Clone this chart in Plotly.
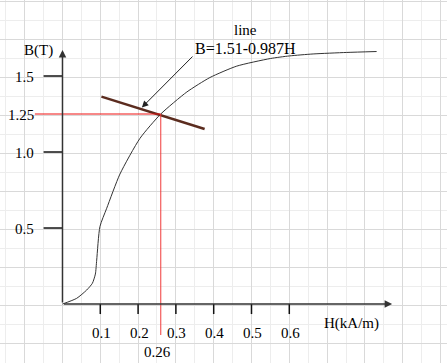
import plotly.graph_objects as go

# ---- data ----
H_curve = [0.0, 0.0376, 0.064, 0.079, 0.087, 0.0905, 0.099, 0.117, 0.152, 0.205,
           0.26, 0.329, 0.39, 0.461, 0.55, 0.60, 0.663, 0.752, 0.831]
B_curve = [0.0, 0.0375, 0.092, 0.136, 0.197, 0.289, 0.509, 0.63, 0.855, 1.09,
           1.25, 1.395, 1.49, 1.565, 1.615, 1.632, 1.645, 1.655, 1.661]
load_H = [0.103, 0.376]
load_B = [1.364, 1.151]
H_op = 0.26
B_op = 1.25
x_ticks = [0.1, 0.2, 0.3, 0.4, 0.5, 0.6]
x_tick_labels = ["0.1", "0.2", "0.3", "0.4", "0.5", "0.6"]
y_ticks = [0.5, 1.0, 1.5]
y_tick_labels = ["0.5", "1.0", "1.5"]
H_axis_end = 0.872
B_axis_end = 1.671

FONT = "Liberation Serif"
W, Hh = 447, 363

fig = go.Figure()

# B-H curve
fig.add_trace(go.Scatter(x=H_curve, y=B_curve, mode="lines",
                         line=dict(color="#333333", width=1, shape="spline", smoothing=0.6),
                         hoverinfo="skip", showlegend=False))
# load line
fig.add_trace(go.Scatter(x=load_H, y=load_B, mode="lines",
                         line=dict(color="#5b2c1f", width=2.5),
                         hoverinfo="skip", showlegend=False))

shapes = []
# red guide lines
shapes.append(dict(type="line", xref="x", yref="y", x0=-0.073, x1=H_op, y0=B_op, y1=B_op,
                   line=dict(color="#ee1111", width=1)))
shapes.append(dict(type="line", xref="x", yref="y", x0=H_op, x1=H_op, y0=B_op, y1=-0.204,
                   line=dict(color="#f03a3a", width=1)))
# tick marks
for t in x_ticks:
    shapes.append(dict(type="line", xref="x", yref="y", x0=t, x1=t, y0=0, y1=-0.066,
                       line=dict(color="#111111", width=1.5)))
for t in y_ticks:
    shapes.append(dict(type="line", xref="x", yref="y", x0=-0.05, x1=0, y0=t, y1=t,
                       line=dict(color="#111111", width=1.5)))

annotations = []
# axes with arrows
annotations.append(dict(x=H_axis_end, y=0, ax=0, ay=0, xref="x", yref="y", axref="x", ayref="y",
                        text="", showarrow=True, arrowhead=2, arrowsize=1, arrowwidth=1.5,
                        arrowcolor="#333333", standoff=0, startstandoff=0))
annotations.append(dict(x=0, y=B_axis_end, ax=0, ay=0, xref="x", yref="y", axref="x", ayref="y",
                        text="", showarrow=True, arrowhead=2, arrowsize=1, arrowwidth=1.5,
                        arrowcolor="#333333", standoff=0, startstandoff=0))
# pointer arrow to load line
annotations.append(dict(x=0.210, y=1.293, ax=0.348, ay=1.638, xref="x", yref="y", axref="x", ayref="y",
                        text="", showarrow=True, arrowhead=2, arrowsize=1.3, arrowwidth=1,
                        arrowcolor="#222222", standoff=0))
# tick labels
for t, lab in zip(x_ticks, x_tick_labels):
    annotations.append(dict(x=t, y=-0.191, xref="x", yref="y", text=lab, showarrow=False,
                            xanchor="center", yanchor="middle", xshift=1,
                            font=dict(family=FONT, size=15, color="black")))
for t, lab in zip(y_ticks + [B_op], y_tick_labels + ["1.25"]):
    annotations.append(dict(x=-0.0714, y=t, xref="x", yref="y", text=lab, showarrow=False,
                            xanchor="right", yanchor="middle", yshift=-1,
                            font=dict(family=FONT, size=15, color="black")))
annotations.append(dict(x=H_op, y=-0.3125, xref="x", yref="y", text="0.26", showarrow=False,
                        xanchor="center", yanchor="middle", xshift=-3,
                        font=dict(family=FONT, size=15, color="black")))
# axis titles
annotations.append(dict(x=-0.0635, y=1.666, xref="x", yref="y", text="B(T)", showarrow=False,
                        xanchor="center", yanchor="middle",
                        font=dict(family=FONT, size=15, color="black")))
annotations.append(dict(x=0.765, y=-0.125, xref="x", yref="y", text="H(kA/m)", showarrow=False,
                        xanchor="center", yanchor="middle",
                        font=dict(family=FONT, size=15, color="black")))
# line label
annotations.append(dict(x=0.483, y=1.803, xref="x", yref="y", text="line", showarrow=False,
                        xanchor="center", yanchor="middle",
                        font=dict(family=FONT, size=15, color="black")))
annotations.append(dict(x=0.483, y=1.678, xref="x", yref="y", text="B=1.51-0.987H", showarrow=False,
                        xanchor="center", yanchor="middle",
                        font=dict(family=FONT, size=16, color="black")))

fig.update_layout(
    width=W, height=Hh,
    margin=dict(l=0, r=0, t=0, b=0),
    paper_bgcolor="white", plot_bgcolor="white",
    shapes=shapes, annotations=annotations,
    showlegend=False,
    xaxis=dict(range=[-0.1653, 1.0172], tick0=0, dtick=0.1, showgrid=True, gridcolor="#d9d9d9",
               gridwidth=1, zeroline=False, showticklabels=False, ticks="", showline=False,
               minor=dict(dtick=0.05, tick0=0, showgrid=True, gridcolor="#ededed", gridwidth=1),
               fixedrange=True),
    yaxis=dict(range=[-0.388, 2.0], tick0=-0.01, dtick=0.25, showgrid=True, gridcolor="#d9d9d9",
               gridwidth=1, zeroline=False, showticklabels=False, ticks="", showline=False,
               minor=dict(dtick=0.125, tick0=-0.01, showgrid=True, gridcolor="#ededed", gridwidth=1),
               fixedrange=True),
)

fig.write_html("out.html", config={"displayModeBar": False},
               post_script="document.body.style.margin='0';document.body.style.overflow='hidden';")
